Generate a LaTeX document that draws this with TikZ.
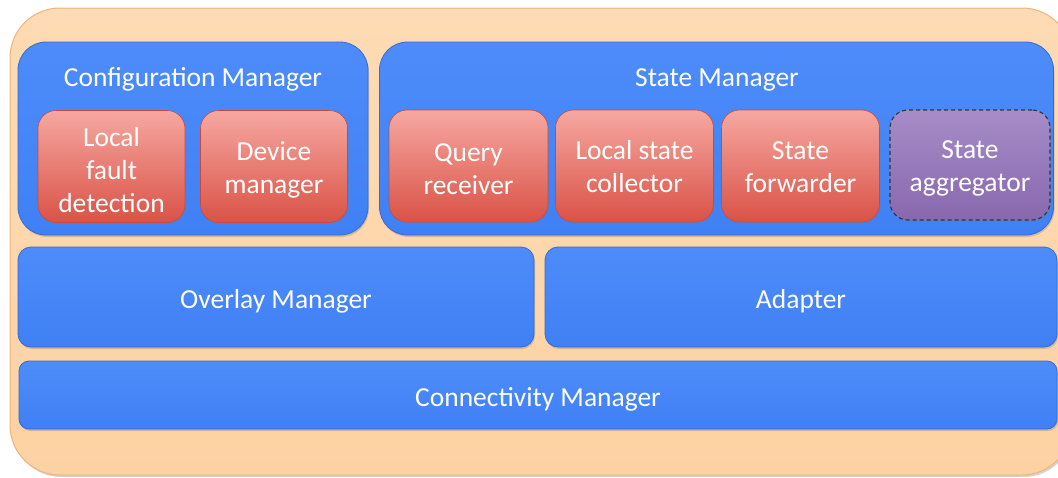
\documentclass[tikz,border=0pt]{standalone}
\usepackage{fontspec}
\setmainfont{Carlito}
\usetikzlibrary{shadows}

\definecolor{peachtop}{HTML}{FEDBB4}
\definecolor{peachbot}{HTML}{FDD2A3}
\definecolor{peachedge}{HTML}{EDB47C}
\definecolor{bluetop}{HTML}{4D8CF9}
\definecolor{bluebot}{HTML}{3F80F5}
\definecolor{blueedge}{HTML}{336CD6}
\definecolor{redtop}{HTML}{F6A8A1}
\definecolor{redbot}{HTML}{DA5246}
\definecolor{rededge}{HTML}{C9493F}
\definecolor{purptop}{HTML}{A68CC8}
\definecolor{purpbot}{HTML}{8868AD}

\tikzset{
  boxtext/.style={text=white, font=\fontsize{27.5}{33}\selectfont, align=center, inner sep=0pt},
  frame/.style={draw=peachedge, line width=1pt, top color=peachtop, bottom color=peachbot,
    drop shadow={shadow xshift=1.5pt, shadow yshift=-2pt, opacity=0.35}},
  bluebox/.style={draw=blueedge, line width=0.8pt, top color=bluetop, bottom color=bluebot,
    inner sep=0pt, drop shadow={shadow xshift=1pt, shadow yshift=-2pt, opacity=0.35}},
  redbox/.style={draw=rededge, line width=0.6pt, top color=redtop, bottom color=redbot,
    rounded corners=18pt, inner sep=0pt, minimum width=147pt, minimum height=112pt,
    drop shadow={shadow xshift=1pt, shadow yshift=-1.5pt, opacity=0.3}},
  optbox/.style={redbox, draw=black!80, dashed, line width=1.1pt, top color=purptop, bottom color=purpbot,
    dash pattern=on 4pt off 3pt},
}

\begin{document}
\begin{tikzpicture}[x=1pt,y=-1pt]
  \useasboundingbox (0,0) rectangle (1058,477);

  % outer container
  \node[frame, rounded corners=50pt, minimum width=1062pt, minimum height=467pt, inner sep=0pt]
    (outer) at (541,241.5) {};

  % configuration manager
  \node[bluebox, rounded corners=28pt, minimum width=350pt, minimum height=193pt] (cfg) at (193,138.5) {};
  \node[boxtext, anchor=base] (cfgtitle) at (193,86) {Configuration Manager};
  \node[redbox] (lfd) at (111.5,166.5) {};
  \node[boxtext] (lfdtext) at ([yshift=-4pt]lfd.center) {Local\\fault\\detection};
  \node[redbox] (dev) at (274,166.5) {};
  \node[boxtext] (devtext) at ([yshift=-3pt]dev.center) {Device\\manager};

  % state manager
  \node[bluebox, rounded corners=28pt, minimum width=674pt, minimum height=193pt] (sm) at (716.5,138.5) {};
  \node[boxtext, anchor=base] (smtitle) at (717,86) {State Manager};
  \node[redbox, minimum width=159pt] (qr) at (468.5,166) {};
  \node[boxtext] (qrtext) at ([yshift=-3pt]qr.center) {Query\\receiver};
  \node[redbox, minimum width=158pt] (lsc) at (634.5,166) {};
  \node[boxtext] (lsctext) at ([yshift=-1pt]lsc.center) {Local state\\collector};
  \node[redbox, minimum width=158pt] (sf) at (800.5,166) {};
  \node[boxtext] (sftext) at ([yshift=-1pt]sf.center) {State\\forwarder};
  \node[optbox, minimum width=160pt, minimum height=110pt] (sa) at (970,165) {};
  \node[boxtext] (satext) at ([yshift=-3pt]sa.center) {State\\aggregator};

  % lower layers
  \node[bluebox, rounded corners=13pt, minimum width=516pt, minimum height=100pt] (ovl) at (276,297) {};
  \node[boxtext] (ovltext) at ([yshift=-4pt]ovl.center) {Overlay Manager};
  \node[bluebox, rounded corners=13pt, minimum width=512pt, minimum height=100pt] (adp) at (801,297) {};
  \node[boxtext] (adptext) at ([yshift=-4pt]adp.center) {Adapter};
  \node[bluebox, rounded corners=10pt, minimum width=1038pt, minimum height=68pt] (con) at (538,395) {};
  \node[boxtext] (context) at ([yshift=-4pt]con.center) {Connectivity Manager};
\end{tikzpicture}
\end{document}
